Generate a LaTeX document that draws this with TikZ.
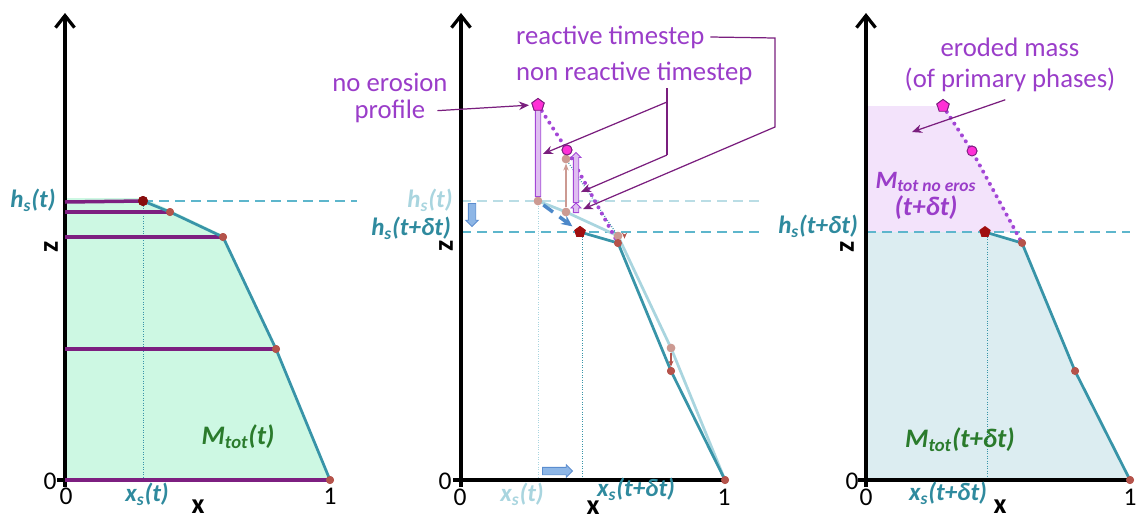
\documentclass[tikz,border=0pt]{standalone}
\usepackage{fontspec}
\setmainfont{Carlito}
\usetikzlibrary{arrows.meta,shapes.geometric,shapes.arrows,calc}

\definecolor{proftl}{HTML}{3894A8}
\definecolor{oldtl}{HTML}{A9D5DF}
\definecolor{dashtl}{HTML}{5DB6CC}
\definecolor{labtl}{HTML}{2F8A9E}
\definecolor{greenfl}{HTML}{CDF8E3}
\definecolor{lilacfl}{HTML}{F3E3FB}
\definecolor{grayfl}{HTML}{DCEDF1}
\definecolor{layerpu}{HTML}{7D1F80}
\definecolor{notepu}{HTML}{9A3DC9}
\definecolor{dotpu}{HTML}{A346D6}
\definecolor{ptrpu}{HTML}{7A1E7E}
\definecolor{pentmg}{HTML}{FF2FD6}
\definecolor{mgreen}{HTML}{2A7B2C}
\definecolor{hsred}{HTML}{A00F0F}
\definecolor{ptred}{HTML}{B5534B}
\definecolor{oldred}{HTML}{CC9A92}
\definecolor{blockbl}{HTML}{8DB6E6}
\definecolor{edgebl}{HTML}{5B8DCF}
\definecolor{movebl}{HTML}{4C88C9}

\begin{document}
\begin{tikzpicture}[x=0.2mm,y=-0.2mm,
  axis/.style={line width=0.65mm,-{Straight Barb[length=2.4mm,width=3.8mm]}},
  prof/.style={proftl,line width=0.55mm,line join=round},
  oldprof/.style={oldtl,line width=0.55mm,line join=round},
  layer/.style={layerpu,line width=0.7mm},
  hsdash/.style={dashtl,line width=0.4mm,dash pattern=on 2mm off 1.2mm},
  olddash/.style={oldtl!80,line width=0.4mm,dash pattern=on 2mm off 1.2mm},
  vdot/.style={line width=0.4pt,densely dotted},
  erodot/.style={dotpu,line width=0.8mm,line cap=round,dash pattern=on 0pt off 1.4mm},
  ptdot/.style={circle,fill=ptred,inner sep=0pt,minimum size=1.6mm},
  olddot/.style={circle,fill=oldred,inner sep=0pt,minimum size=1.7mm},
  hsdot/.style={circle,fill=hsred!85!black,inner sep=0pt,minimum size=2mm},
  hspent/.style={regular polygon,regular polygon sides=5,fill=hsred,inner sep=0pt,minimum size=2.4mm},
  noepent/.style={regular polygon,regular polygon sides=5,fill=pentmg,draw=ptrpu,line width=0.5pt,inner sep=0pt,minimum size=2.6mm},
  noecirc/.style={circle,fill=pentmg,draw=ptrpu,line width=0.5pt,inner sep=0pt,minimum size=2mm},
  lab/.style={font=\fontsize{14.2}{16}\selectfont\bfseries\itshape,inner sep=1pt},
  biglab/.style={font=\fontsize{15.2}{17}\selectfont\bfseries\itshape},
  note/.style={text=notepu,font=\fontsize{15.2}{18}\selectfont},
  num/.style={font=\fontsize{14.5}{16}\selectfont,inner sep=0pt},
  axlab/.style={font=\fontsize{16}{18}\selectfont\bfseries,inner sep=0pt},
  ptr/.style={ptrpu,line width=0.7pt,-{Stealth[length=2mm,width=1.7mm]}},
  risearr/.style={single arrow,draw=dotpu,fill=dotpu!35,line width=0.5pt,inner sep=0.45mm,
    single arrow head extend=0.45mm,single arrow head indent=0pt,rotate=90,anchor=tail},
  blockarr/.style={single arrow,draw=edgebl,fill=blockbl,line width=0.5pt,inner sep=0.65mm,
    single arrow head extend=0.5mm,single arrow head indent=0pt,anchor=tail}
]
\useasboundingbox (0,0) rectangle (1137,520);

% left panel: profile at t
\fill[greenfl] (65,198) -- (143,198) -- (170,210) -- (223,235) -- (276,348) -- (330,480) -- (65,480) -- cycle;
\node[hsdot] (l0) at (143,201) {};
\node[ptdot] (l1) at (170,212) {};
\node[ptdot] (l2) at (223,237) {};
\node[ptdot] (l3) at (276,349) {};
\node[ptdot] (l4) at (330,480) {};
\draw[vdot,proftl] (l0.center) -- (l0.center |- 0,480);
\draw[hsdash] (l0.center) -- (357,201);
\draw[axis] (65,487) -- (65,13);
\draw[line width=0.65mm] (57,480) -- (l4.center);
\draw[layer] (65,202) -- (l0.center);
\draw[layer] (65,212) -- (l1.center);
\draw[layer] (65,237) -- (l2.center);
\draw[layer] (65,349) -- (l3.center);
\draw[layer] (65,480) -- (l4.center);
\draw[prof] (l0.center) -- (l1.center) -- (l2.center) -- (l3.center) -- (l4.center);
\node[hsdot] at (l0) {};
\node[ptdot] at (l1) {};
\node[ptdot] at (l2) {};
\node[ptdot] at (l3) {};
\node[ptdot] at (l4) {};
\node[num,anchor=east] (ly0) at (57,481) {0};
\node[num] (lx0) at (66,496) {0};
\node[num] (lx1) at (330,496) {1};
\node[axlab] (lx) at (198,507) {x};
\node[axlab,rotate=90] (lz) at (51,247) {z};
\node[lab,text=labtl] (lhs) at (33,200) {h\textsubscript{s}(t)};
\node[lab,text=labtl] (lxs) at (147,494) {x\textsubscript{s}(t)};
\node[biglab,text=mgreen] (lm) at (238,437) {M\textsubscript{tot}(t)};

% middle panel: one timestep
\node[olddot] (o0) at (538,201) {};
\node[olddot] (o1) at (566,212) {};
\node[olddot] (o2) at (618,236) {};
\node[olddot] (o3) at (671,348) {};
\node[hspent] (n0) at (580,232) {};
\node[ptdot] (n1) at (618,243) {};
\node[ptdot] (n2) at (671,371) {};
\node[ptdot] (n3) at (725,480) {};
\node[olddot] (o1top) at (566,159) {};
\node[noepent] (mpent) at (538,105) {};
\node[noecirc] (mcirc) at (567,150) {};
\draw[vdot,oldtl] (o0.center) -- (o0.center |- 0,480);
\draw[vdot,proftl] (582,232) -- (582,480);
\draw[olddash] (461,201) -- (765,201);
\draw[hsdash] (461,232) -- (765,232);
\draw[axis] (461,487) -- (461,13);
\draw[line width=0.65mm] (453,480) -- (n3.center);
\draw[oldprof] (o0.center) -- (o1.center) -- (o2.center) -- (o3.center) -- (n3.center);
\draw[prof] (n0.center) -- (n1.center) -- (n2.center) -- (n3.center);
\draw[vdot,proftl,line width=0.8pt] (o1top.center) -- (o2.center);
\draw[erodot] (mpent.center) -- (mcirc.center) -- (n1.center);
\draw[oldred,line width=0.6pt,-{Stealth[length=1.4mm,width=1.1mm]}] (o1) -- (o1top);
\draw[ptred,line width=0.6pt,-{Stealth[length=1.2mm,width=1mm]}] ([xshift=1.3mm]o2.center) -- ([xshift=1.3mm]n1.north);
\draw[ptred,line width=0.6pt,-{Stealth[length=1.2mm,width=1mm]}] (o3) -- (n2);
\draw[movebl,line width=0.7mm,dash pattern=on 2.4mm off 1.6mm,-{Stealth[length=2.2mm,width=2mm]},shorten <=0.4mm,shorten >=0.8mm] (o0) -- (n0);
\node[risearr,minimum height=19.2mm] (rise1) at (538,197) {};
\node[risearr,minimum height=10mm] (rise2) at (576,203) {};
\node[risearr,minimum height=1.9mm] (rise3) at (576,213) {};
\node[olddot] at (o0) {};
\node[olddot] at (o1) {};
\node[olddot] at (o2) {};
\node[olddot] at (o3) {};
\node[olddot] at (o1top) {};
\node[hspent] at (n0) {};
\node[ptdot] at (n1) {};
\node[ptdot] at (n2) {};
\node[ptdot] at (n3) {};
\node[noepent] at (mpent) {};
\node[noecirc] at (mcirc) {};
\node[blockarr,rotate=-90,minimum height=4.6mm] (sink) at (472,203) {};
\node[blockarr,minimum height=6mm] (shift) at (542,471) {};
\node[num,anchor=east] (my0) at (452,481) {0};
\node[num] (mx0) at (460,497) {0};
\node[num] (mx1) at (724,497) {1};
\node[axlab] (mx) at (593,508) {x};
\node[axlab,rotate=90] (mz) at (446,246) {z};
\node[lab,text=oldtl] (mhs0) at (430,200) {h\textsubscript{s}(t)};
\node[lab,text=labtl] (mhs1) at (411,228) {h\textsubscript{s}(t+δt)};
\node[lab,text=oldtl] (mxs0) at (522,494) {x\textsubscript{s}(t)};
\node[lab,text=labtl] (mxs1) at (636,489) {x\textsubscript{s}(t+δt)};
\node[note] (noeroA) at (390,82) {no erosion};
\node[note] (noeroB) at (390,111) {profile};
\draw[ptr,shorten <=1.2mm,shorten >=0.6mm] (noeroB.east) -- (mpent.west);
\node[note,anchor=west] (react) at (510,37) {reactive timestep};
\node[note,anchor=west] (nonreact) at (510,73) {non reactive timestep};
\coordinate (rb1) at (775,38);
\coordinate (rb2) at (775,127);
\coordinate (nb1) at (667,88);
\coordinate (nbm) at (667,102);
\coordinate (nb2) at (667,155);
\draw[ptr] (react.east) -- (rb1) -- (rb2) -- ($(rise3.center)+(7,0)$);
\draw[ptrpu,line width=0.7pt] (nb1) -- (nb2);
\draw[ptr] (nb2) -- ($(rise2.tail)+(5,-11)$);
\draw[ptr] (nbm) -- ($(rise1.center)+(5,4)$);

% right panel: profile at t+dt
\node[hspent] (r0) at (985,232) {};
\node[ptdot] (r1) at (1022,243) {};
\node[ptdot] (r2) at (1075,371) {};
\node[ptdot] (r3) at (1130,480) {};
\node[noepent] (rpent) at (943,106) {};
\node[noecirc] (rcirc) at (972,151) {};
\fill[lilacfl] (866,106) -- (rpent.center) -- (rcirc.center) -- (1017,232) -- (866,232) -- cycle;
\fill[grayfl] (866,232) -- (r0.center) -- (r1.center) -- (r2.center) -- (r3.center) -- (866,480) -- cycle;
\draw[vdot,proftl] (987,232) -- (987,480);
\draw[hsdash] (866,232) -- (1130,232);
\draw[axis] (866,487) -- (866,13);
\draw[line width=0.65mm] (858,480) -- (r3.center);
\draw[prof] (r0.center) -- (r1.center) -- (r2.center) -- (r3.center);
\draw[erodot] (rpent.center) -- (rcirc.center) -- (r1.center);
\node[hspent] at (r0) {};
\node[ptdot] at (r1) {};
\node[ptdot] at (r2) {};
\node[ptdot] at (r3) {};
\node[noepent] at (rpent) {};
\node[noecirc] at (rcirc) {};
\node[num,anchor=east] (ry0) at (859,481) {0};
\node[num] (rx0) at (866,497) {0};
\node[num] (rx1) at (1130,497) {1};
\node[axlab] (rx) at (1000,507) {x};
\node[axlab,rotate=90] (rz) at (847,247) {z};
\node[lab,text=labtl] (rhs) at (818,226) {h\textsubscript{s}(t+δt)};
\node[lab,text=labtl] (rxs) at (948,493) {x\textsubscript{s}(t+δt)};
\node[biglab,text=mgreen] (rm) at (960,440) {M\textsubscript{tot}(t+δt)};
\node[lab,text=notepu] (rme) at (926,182) {M\textsubscript{tot no eros}};
\node[biglab,text=notepu] (rmt) at (926,208) {(t+δt)};
\node[note] (erodA) at (1010,47) {eroded mass};
\node[note] (erodB) at (1010,80) {(of primary phases)};
\coordinate (erodT) at (912,132);
\draw[ptr,shorten <=1mm] (erodB.south) -- (erodT);
\end{tikzpicture}
\end{document}
